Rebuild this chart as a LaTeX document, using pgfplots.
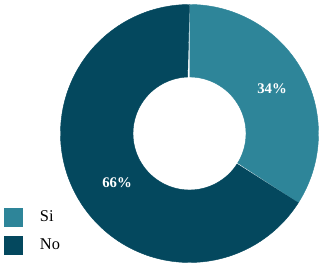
\documentclass[border=0pt]{standalone}
\usepackage{fontspec}
\setmainfont{Liberation Serif}
\usepackage{pgfplots}
\pgfplotsset{compat=1.18}
\definecolor{cSi}{RGB}{46,133,153}
\definecolor{cNo}{RGB}{4,72,94}
\newcommand{\Ro}{129}
\newcommand{\Ri}{56.5}
% slice: start angle, end angle, colour
\newcommand{\donutslice}[3]{%
  \addplot[fill=#3, draw=#3, line width=0.3pt, domain=0:2, samples=241, variable=\t]
  ({ifthenelse(\t<=1, \Ro*cos(#1+(#2-(#1))*\t), \Ri*cos(#2+((#1)-(#2))*(\t-1)))},
   {ifthenelse(\t<=1, \Ro*sin(#1+(#2-(#1))*\t), \Ri*sin(#2+((#1)-(#2))*(\t-1)))});
}
\begin{document}
\begin{tikzpicture}
% values (percent)
\def\vSi{34}
\def\vNo{66}
\pgfmathsetmacro{\aA}{90}
\pgfmathsetmacro{\aB}{90-3.6*\vSi}
\pgfmathsetmacro{\aC}{\aB-3.6*\vNo}
\begin{axis}[
  scale only axis,
  width=8cm, height=6.5723cm,
  xmin=-189.5, xmax=135.5,
  ymin=-133.5, ymax=133.5,
  hide axis,
  clip=false,
  legend style={at={(axis cs:-185.5,-74.5)}, anchor=north west,
    draw=none, fill=none, inner sep=0pt, outer sep=0pt,
    font=\fontsize{11.5}{13}\selectfont,
    row sep=6.6pt,
    nodes={inner sep=0pt, outer sep=0pt},
    cells={anchor=west}},
  legend image code/.code={\path[#1, draw=none] (0pt,-6.6pt) rectangle (13.3pt,6.6pt);},
  legend cell align=left,
]
\donutslice{\aA}{\aB}{cSi}
\addlegendentry{\hspace*{11.9pt}Si}
\donutslice{\aB}{\aC}{cNo}
\addlegendentry{\hspace*{11.9pt}No}
\node[text=white, font=\fontsize{10.3}{12}\selectfont\bfseries] at (axis cs:82.5,44.5) {34\%};
\node[text=white, font=\fontsize{10.3}{12}\selectfont\bfseries] at (axis cs:-72.5,-49.5) {66\%};
\end{axis}
\path[use as bounding box] (current axis.south west) rectangle (current axis.north east);
\end{tikzpicture}
\end{document}
